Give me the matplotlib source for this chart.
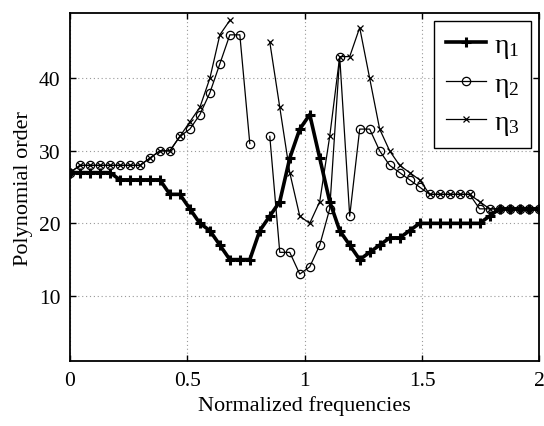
import numpy as np
import matplotlib
matplotlib.use("Agg")
import matplotlib.pyplot as plt

nan = np.nan
freq = np.linspace(0, 2, 48)
eta1 = [27, 27, 27, 27, 27, 26, 26, 26, 26, 26, 24, 24, 22, 20, 19, 17,
        15, 15, 15, 19, 21, 23, 29, 33, 35, 29, 23, 19, 17, 15, 16, 17,
        18, 18, 19, 20, 20, 20, 20, 20, 20, 20, 21, 22, 22, 22, 22, 22]
eta2 = [27, 28, 28, 28, 28, 28, 28, 28, 29, 30, 30, 32, 33, 35, 38, 42,
        46, 46, 31, nan, 32, 16, 16, 13, 14, 17, 22, 43, 21, 33, 33, 30,
        28, 27, 26, 25, 24, 24, 24, 24, 24, 22, 22, 22, 22, 22, 22, 22]
eta3 = [27, 28, 28, 28, 28, 28, 28, 28, 29, 30, 30, 32, 34, 36, 40, 46,
        48, nan, nan, nan, 45, 36, 27, 21, 20, 23, 32, 43, 43, 47, 40, 33,
        30, 28, 27, 26, 24, 24, 24, 24, 24, 23, 22, 22, 22, 22, 22, 22]
labels = ['η$_\\mathregular{1}$', 'η$_\\mathregular{2}$', 'η$_\\mathregular{3}$']

plt.rcParams['font.family'] = ['Liberation Serif', 'DejaVu Serif']
plt.rcParams['mathtext.fontset'] = 'stix'

fig = plt.figure(figsize=(5.44, 4.27), dpi=100)
ax = fig.add_axes([0.1287, 0.152, 0.8630, 0.815])

ax.plot(freq, eta1, color='black', lw=2.6, marker='+', ms=7, mew=2.2, label=labels[0])
ax.plot(freq, eta2, color='black', lw=0.9, marker='o', ms=6, mfc='none', mew=0.9, label=labels[1])
ax.plot(freq, eta3, color='black', lw=0.9, marker='x', ms=5, mew=0.9, label=labels[2])

ax.set_xlim(0, 2)
ax.set_ylim(1, 49)
ax.set_xticks([0, 0.5, 1, 1.5, 2])
ax.set_xticklabels(['0', '0.5', '1', '1.5', '2'])
ax.set_yticks([10, 20, 30, 40])
ax.grid(True, color='#999999', linestyle=(0, (1, 2.5)), linewidth=0.8)
ax.tick_params(direction='in', top=True, right=True, labelsize=15.5, length=4, width=1, pad=7)
for s in ax.spines.values():
    s.set_linewidth(1.3)

ax.set_xlabel('Normalized frequencies', fontsize=16, labelpad=4)
ax.set_ylabel('Polynomial order', fontsize=16, labelpad=4)

leg = ax.legend(loc='upper right', fontsize=20, frameon=True, fancybox=False,
                edgecolor='black', framealpha=1, handlelength=1.45,
                borderaxespad=0.3, labelspacing=0.4, handletextpad=0.3,
                borderpad=0.4)
leg.get_frame().set_linewidth(1.0)

fig.savefig('out.png', dpi=100)
